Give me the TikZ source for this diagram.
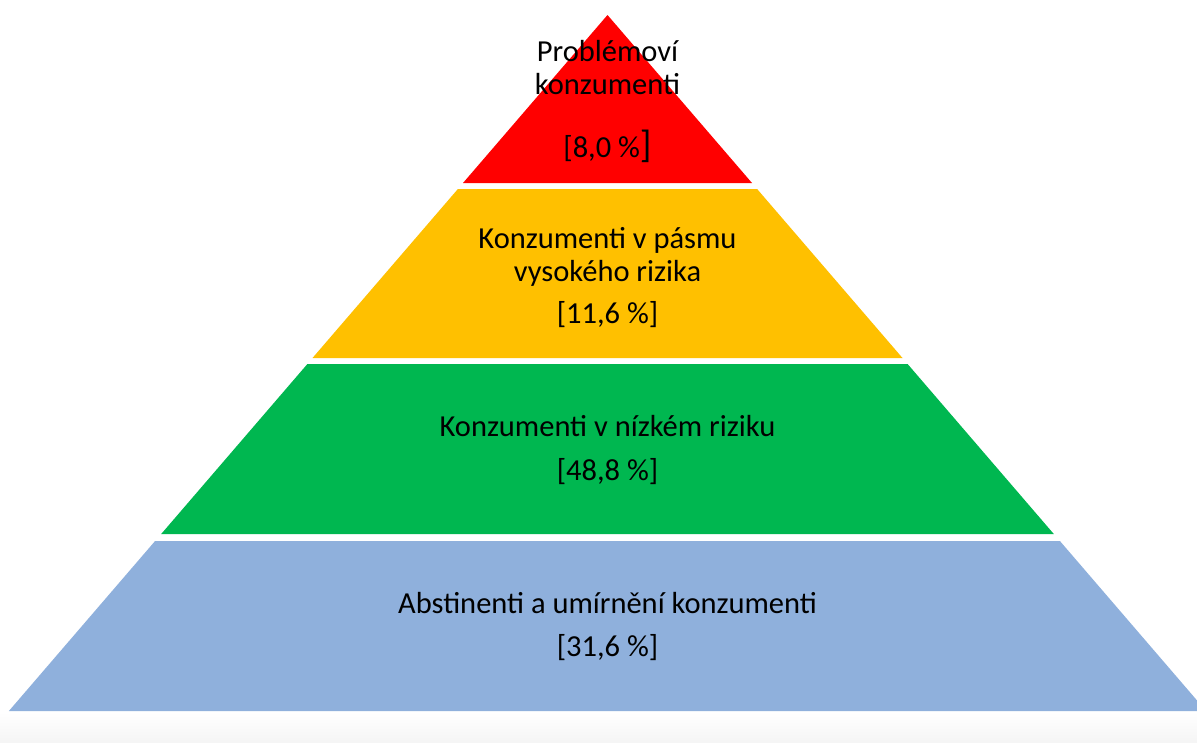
\documentclass[tikz,border=0pt]{standalone}
\usepackage{fontspec}
\setmainfont{Carlito}
\definecolor{lred}{HTML}{FF0000}
\definecolor{lyellow}{HTML}{FFC000}
\definecolor{lgreen}{HTML}{00B750}
\definecolor{lblue}{HTML}{8FB0DC}
\begin{document}
\begin{tikzpicture}[x=1pt,y=-1pt,
  layer/.style={draw=none},
  lbl/.style={font=\fontsize{30.5}{34}\selectfont, text=black, inner sep=0pt, anchor=center}]
\useasboundingbox (0,0) rectangle (1197,742);
\clip (0,0) rectangle (1197,742);
\fill[white] (0,0) rectangle (1197,742);
\shade[top color=white,bottom color=black!4] (0,712) rectangle (1197,742);
% layers
\fill[lred]    (607.5,15) -- (752,183) -- (463,183) -- cycle;
\fill[lyellow] (457.9,189) -- (757.1,189) -- (902.5,358) -- (312.5,358) -- cycle;
\fill[lgreen]  (307.4,364) -- (907.6,364) -- (1053.8,534) -- (161.2,534) -- cycle;
\fill[lblue]   (155.1,541) -- (1059.9,541) -- (1206.1,711) -- (8.9,711) -- cycle;
% labels
\node[lbl] (r1) at (607.5,51) {Problémoví};
\node[lbl] (r2) at (607.5,84) {konzumenti};
\node[lbl] (r3) at (607.5,146) {[8,0 \%{\fontsize{38}{38}\selectfont]}};
\node[lbl] (y1) at (607.5,240) {Konzumenti v pásmu};
\node[lbl] (y2) at (607.5,273) {vysokého rizika};
\node[lbl] (y3) at (607.5,315) {[11,6 \%]};
\node[lbl] (g1) at (607.5,426) {Konzumenti v nízkém riziku};
\node[lbl] (g2) at (607.5,472) {[48,8 \%]};
\node[lbl] (b1) at (607.5,603) {Abstinenti a umírnění konzumenti};
\node[lbl] (b2) at (607.5,648) {[31,6 \%]};
\end{tikzpicture}
\end{document}
